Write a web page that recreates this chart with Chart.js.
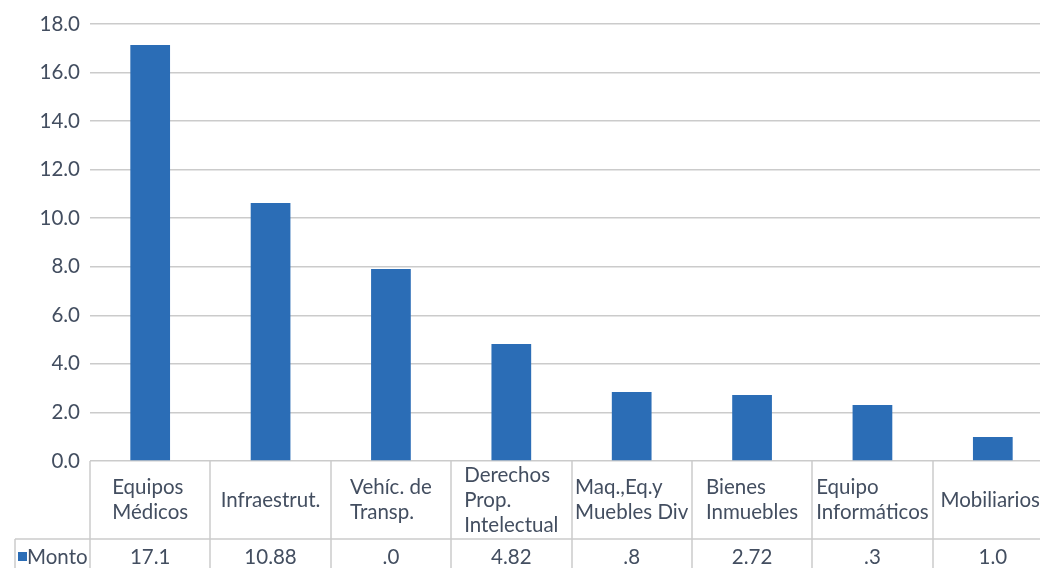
<!DOCTYPE html>
<html>
<head>
<meta charset="utf-8">
<script src="https://cdn.jsdelivr.net/npm/chart.js@4.4.0/dist/chart.umd.min.js"></script>
<style>
  html, body { margin: 0; padding: 0; background: #fff; overflow: hidden; }
  #wrap { width: 1053px; height: 568px; }
</style>
</head>
<body>
<div id="wrap"><canvas id="chart"></canvas></div>
<script>
// categories as shown in the data table (one entry per line)
const categories = [
  ['Equipos', 'Médicos'],
  ['Infraestrut.'],
  ['Vehíc. de', 'Transp.'],
  ['Derechos', 'Prop.', 'Intelectual'],
  ['Maq.,Eq.y', 'Muebles Div'],
  ['Bienes', 'Inmuebles'],
  ['Equipo', 'Informáticos'],
  ['Mobiliarios']
];
// bar heights
const montoValues = [17.13, 10.63, 7.91, 4.82, 2.84, 2.72, 2.31, 0.99];
// values as printed in the table row
const tableValues = ['17.1', '10.88', '.0', '4.82', '.8', '2.72', '.3', '1.0'];
const seriesName = 'Monto';
const yMin = 0;
const yMax = 18;
const yStep = 2;

const barColor = '#2B6DB6';
const gridColor = '#CBCBCB';
const textColor = '#434E60';
const fontSize = 20.5;
const font = fontSize + 'px Lato';
const visibleWidth = 1040;

const dataTable = {
  id: 'dataTable',
  afterDraw(chart) {
    const { ctx, chartArea } = chart;
    const x = chart.scales.x;
    const half = (x.getPixelForValue(1) - x.getPixelForValue(0)) / 2;
    const top = chartArea.bottom;
    const rowSplit = top + 78;
    const bottom = chart.height;

    const line = (x1, y1, x2, y2) => {
      ctx.beginPath();
      ctx.moveTo(x1, y1);
      ctx.lineTo(x2, y2);
      ctx.stroke();
    };

    ctx.save();
    ctx.strokeStyle = gridColor;
    ctx.lineWidth = 1.5;
    for (let i = 0; i <= categories.length; i++) {
      const px = Math.round(x.getPixelForValue(i) - half);
      line(px, top, px, bottom);
    }
    line(15, rowSplit, chartArea.right, rowSplit);
    line(15, rowSplit, 15, bottom);

    ctx.font = font;
    ctx.fillStyle = textColor;
    ctx.textBaseline = 'middle';

    // category labels, left aligned block centred in each column
    const lineH = 25;
    const midY = (top + rowSplit) / 2;
    categories.forEach((lines, i) => {
      const cx = x.getPixelForValue(i);
      const w = Math.max(...lines.map(l => ctx.measureText(l).width));
      const cellLeft = cx - half;
      const cellRight = Math.min(cx + half, visibleWidth);
      let left = Math.min(cx - w / 2, cellRight - w);
      left = Math.max(left, cellLeft + 2);
      const startY = midY - (lines.length - 1) * lineH / 2;
      ctx.textAlign = 'left';
      lines.forEach((l, j) => ctx.fillText(l, left, startY + j * lineH));
    });

    // value row
    const valY = rowSplit + 18;
    ctx.textAlign = 'center';
    tableValues.forEach((v, i) => ctx.fillText(v, x.getPixelForValue(i), valY));

    // legend key + series name
    ctx.fillStyle = barColor;
    ctx.fillRect(18, valY - 5, 9, 9);
    ctx.fillStyle = textColor;
    ctx.textAlign = 'left';
    ctx.fillText(seriesName, 27, valY);
    ctx.restore();
  }
};

// eslint-disable-next-line no-new
new Chart(document.getElementById('chart'), {
  type: 'bar',
  data: {
    labels: categories,
    datasets: [{
      label: seriesName,
      data: montoValues,
      backgroundColor: barColor,
      categoryPercentage: 1,
      barPercentage: 0.33
    }]
  },
  options: {
    responsive: true,
    maintainAspectRatio: false,
    animation: false,
    layout: { padding: { top: 24, bottom: 107, left: 0, right: 0 } },
    plugins: {
      legend: { display: false },
      tooltip: { enabled: false }
    },
    scales: {
      x: {
        display: false
      },
      y: {
        min: yMin,
        max: yMax,
        ticks: {
          stepSize: yStep,
          padding: 10,
          color: textColor,
          font: { family: 'Lato', size: fontSize },
          callback: v => v.toFixed(1)
        },
        grid: { color: gridColor, lineWidth: 1.5, drawTicks: false },
        border: { display: false },
        afterFit: scale => { scale.width = 90; }
      }
    }
  },
  plugins: [dataTable]
});
</script>
</body>
</html>
